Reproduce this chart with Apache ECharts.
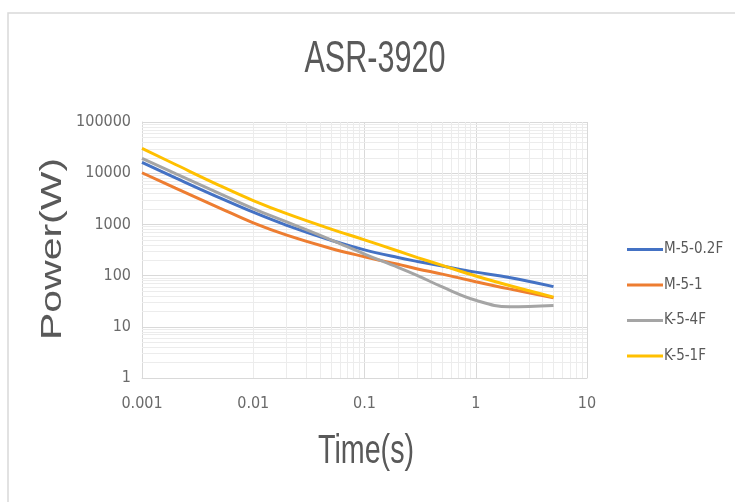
<!DOCTYPE html>
<html>
<head>
<meta charset="utf-8">
<script src="https://cdn.jsdelivr.net/npm/echarts@6/dist/echarts.min.js"></script>
<style>
html,body{margin:0;padding:0;background:#fff;}
#chart{width:735px;height:502px;}
</style>
</head>
<body>
<div id="chart"></div>
<script>
// ---- data ----
var times = [0.001, 0.002, 0.005, 0.01, 0.02, 0.05, 0.1, 0.2, 0.3, 0.5, 1, 2, 5];
var seriesNames = ['M-5-0.2F', 'M-5-1', 'K-5-4F', 'K-5-1F'];
var m502F = [16200, 8100, 3300, 1730, 960, 490, 318, 225, 189, 154, 117, 92, 61];
var m51   = [10200, 5130, 2090, 1070, 617, 339, 234, 166, 135, 107, 76, 55, 37];
var k54F  = [19500, 9800, 4000, 2040, 1120, 500, 263, 145, 100, 60, 33, 24.5, 26];
var k51F  = [30600, 14800, 5730, 2920, 1620, 810, 500, 302, 225, 158, 98, 64, 38];
var xTicks = [0.001, 0.01, 0.1, 1, 10];
var yTicks = [1, 10, 100, 1000, 10000, 100000];
var colors = ['#4472C4', '#ED7D31', '#A5A5A5', '#FFC000'];
var titleText = 'ASR-3920';
var xName = 'Time(s)';
var yName = 'Power(W)';

function pairs(vals) { return times.map(function (t, i) { return [t, vals[i]]; }); }
function minors(ticks) {
  var out = [];
  for (var i = 0; i < ticks.length - 1; i++) {
    for (var k = 2; k <= 9; k++) out.push(+(ticks[i] * k).toPrecision(6));
  }
  return out;
}

var narrow = '"Liberation Sans Narrow","DejaVu Sans Condensed","Liberation Sans",sans-serif';
var regular = '"Liberation Sans",Arial,sans-serif';
var txtColor = '#595959';
var tickColor = '#6a6a6a';

var chart = echarts.init(document.getElementById('chart'));
var lineSeries = [m502F, m51, k54F, k51F].map(function (vals, i) {
  return {
    name: seriesNames[i], type: 'line', data: pairs(vals), smooth: 0.4,
    symbol: 'none', showSymbol: false, z: 5,
    lineStyle: { width: 3, color: colors[i] }, itemStyle: { color: colors[i] }
  };
});
var gridSeries = {
  type: 'line', data: [], silent: true, z: 1,
  markLine: {
    silent: true, symbol: 'none', label: { show: false },
    lineStyle: { color: '#ececec', width: 1, type: 'solid' },
    data: minors(xTicks).map(function (v) { return { xAxis: v }; })
      .concat(minors(yTicks).map(function (v) { return { yAxis: v }; }))
  }
};

chart.setOption({
  animation: false,
  backgroundColor: '#ffffff',
  color: colors,
  grid: { left: 142, right: 148, top: 122, bottom: 124, containLabel: false },
  legend: {
    data: seriesNames, orient: 'vertical', left: 622, top: 237,
    icon: 'rect', itemWidth: 36, itemHeight: 3, itemGap: 20.5,
    textStyle: { color: txtColor, fontSize: 15, fontFamily: narrow, padding: [0, 0, 0, -4] }
  },
  xAxis: {
    type: 'log', logBase: 10, min: 0.001, max: 10,
    axisLine: { show: true, lineStyle: { color: '#d9d9d9', width: 1 } },
    axisTick: { show: false },
    splitLine: { show: true, lineStyle: { color: '#d9d9d9', width: 1 } },
    axisLabel: { color: tickColor, fontSize: 16, fontFamily: narrow, margin: 18,
      formatter: function (v) { return String(+v.toPrecision(6)); } }
  },
  yAxis: {
    type: 'log', logBase: 10, min: 1, max: 100000,
    axisLine: { show: true, lineStyle: { color: '#d9d9d9', width: 1 } },
    axisTick: { show: false },
    splitLine: { show: true, lineStyle: { color: '#d9d9d9', width: 1 } },
    axisLabel: { color: tickColor, fontSize: 16, fontFamily: narrow, margin: 11,
      formatter: function (v) { return String(+v.toPrecision(6)); } }
  },
  graphic: [
    { type: 'rect', z: 0, silent: true, shape: { x: 8, y: 13, width: 740, height: 500 },
      style: { fill: 'none', stroke: '#d9d9d9', lineWidth: 1.5 } },
    { type: 'text', x: 375, y: 60, scaleX: 0.68, scaleY: 1, silent: true,
      style: { text: titleText, font: '45px ' + regular, fill: txtColor, align: 'center', verticalAlign: 'middle' } },
    { type: 'text', x: 366, y: 452, scaleX: 0.70, scaleY: 1, silent: true,
      style: { text: xName, font: '41px ' + regular, fill: txtColor, align: 'center', verticalAlign: 'middle' } },
    { type: 'text', x: 53, y: 249, rotation: Math.PI / 2, scaleX: 1, scaleY: 0.70, silent: true,
      style: { text: yName, font: '41px ' + regular, fill: txtColor, align: 'center', verticalAlign: 'middle' } }
  ],
  series: [gridSeries].concat(lineSeries)
});
</script>
</body>
</html>
